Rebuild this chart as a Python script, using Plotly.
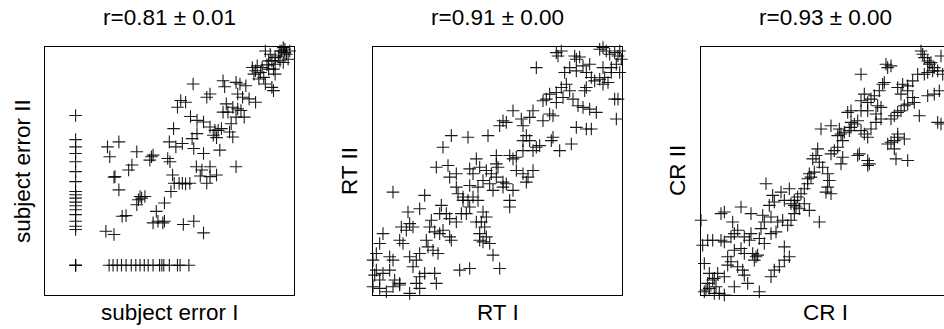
import plotly.graph_objects as go

# ---------------- data (arbitrary units) ----------------
# Panel 1: subject error I vs subject error II
err_x = [107]*17 + [107, 107, 107] + [210,222,235,248,262,278,292,305,318,330,345,365,372,378,395,420,428,455] + [
    205,240,212,295,340,345,335,390,397,228,225,270,280,240,300,305,310,320,295,380,
    400,410,425,435,445,458,250,262,355,360,345,375,380,438,470,500,200,225,405,478,
    495,520,520,490,510,540,600,468,520,510,430,445,420,460,408,395,415,435,465,480,
    470,500,550,480,500,520,535,545,555,530,540,560,565,600,612,630,605,620,640,660,
    570,560,575,590,600,585,580,590,605,615,625,650,660,675,685,690,710,715,700,720,
    690,705,710,720,730,740,745,750,755,760,735,720,745,700,695,680,665,715,655,670,
    750,735,765]
err_y = [543,470,448,428,403,373,343,313,303,293,281,270,258,243,223,208,198] + [90, 90, 90] + [90]*18 + [
    448,463,418,433,418,423,408,413,403,358,356,378,393,318,288,298,293,298,273,278,
    313,338,338,338,336,338,238,240,253,223,218,218,223,213,223,188,193,183,363,388,
    378,388,358,360,338,363,388,638,608,598,588,583,568,540,503,463,448,458,473,488,
    443,428,438,528,523,508,498,498,503,483,476,648,630,643,638,633,608,598,593,583,
    578,553,553,568,538,518,493,478,563,558,538,688,678,673,658,638,628,618,683,668,
    738,728,708,698,723,738,748,743,728,713,708,718,703,708,696,688,693,683,668,653,
    733,738,738]

# Panel 2: RT I vs RT II
rt_x = [
    560,565,575,615,620,630,660,690,700,710,720,735,745,750,755,740,725,750,705,690,
    675,665,650,640,620,600,585,590,600,575,560,540,530,520,560,580,610,625,640,660,
    680,650,645,700,715,735,745,740,500,700,725,490,480,430,455,400,390,410,460,470,
    480,500,510,520,540,550,550,545,570,605,620,650,665,460,460,490,440,430,420,380,
    380,385,320,300,310,330,350,365,380,400,410,440,460,475,490,470,430,420,420,400,
    370,360,340,325,300,280,260,265,280,295,310,325,300,290,275,260,240,230,215,210,
    185,180,195,210,240,245,220,170,175,190,205,165,115,120,150,130,110,95,90,100,
    120,140,150,60,70,40,30,20,10,20,40,60,75,90,30,15,10,30,50,70,
    90,120,140,150,165,195,200,150,130,270,300,390,370,360,350,345,330,335,350,340,
    245,295,355,220,200,235,70,260,240,330,340,320]
rt_y = [
    730,720,735,720,710,717,695,740,745,735,725,730,720,735,710,695,685,670,655,650,
    645,655,670,690,675,685,670,635,615,625,610,605,590,585,580,595,590,570,565,560,
    550,625,615,635,640,590,590,530,685,685,670,555,535,555,530,525,510,520,510,480,
    465,445,450,525,545,540,475,465,435,455,505,500,500,465,435,435,415,410,420,420,
    395,385,410,380,365,385,375,365,355,340,335,375,365,355,375,340,315,285,265,325,
    315,335,345,325,330,295,325,305,285,285,295,285,265,245,245,220,230,245,270,245,
    225,205,190,185,175,165,195,165,145,135,125,300,250,215,260,205,195,205,165,155,
    115,105,125,115,105,185,155,125,105,75,65,75,45,35,45,60,25,20,10,25,
    30,5,35,55,65,65,35,20,85,75,80,80,120,155,175,205,185,220,235,250,
    480,475,480,445,385,390,310,365,355,165,160,220]

# Panel 3: CR I vs CR II
cr_x = [
    680,685,690,700,705,710,720,730,740,745,715,700,690,670,655,640,625,610,640,655,
    620,575,580,590,500,565,570,555,540,510,500,520,530,550,560,545,520,500,470,460,
    480,470,465,450,440,430,445,430,420,410,380,410,435,470,490,500,510,520,530,545,
    560,590,600,610,620,630,640,660,675,700,720,735,730,740,610,600,610,630,590,580,
    600,605,640,495,490,520,520,525,445,440,370,365,375,355,385,400,405,400,410,395,
    360,345,350,340,330,320,310,300,290,305,315,330,345,300,290,280,270,260,235,215,
    240,225,210,200,230,250,265,245,270,285,270,255,240,230,175,185,180,190,165,170,
    150,130,120,140,170,90,80,115,110,90,80,55,40,25,20,120,140,150,130,110,
    100,145,150,160,120,90,70,60,55,40,45,35,30,60,75,90,195,375,340,300,
    285,205,230,210,195,100,30,45,65,760,765,760]
cr_y = [
    735,725,715,705,695,700,685,675,720,665,675,670,665,665,645,630,635,625,615,595,
    605,695,685,690,665,635,640,615,600,605,585,580,590,570,565,545,555,555,555,550,
    515,505,495,490,485,480,465,445,435,425,500,510,500,520,525,495,485,475,500,520,
    530,530,540,550,555,570,575,580,540,600,605,615,520,515,485,465,475,470,460,455,
    440,410,405,425,420,405,390,395,415,395,440,420,400,410,385,365,345,325,305,310,
    370,365,355,335,320,305,295,285,275,265,260,275,255,245,225,210,285,310,300,335,
    280,270,220,200,235,220,225,190,145,115,105,85,75,55,125,115,105,120,165,185,
    175,195,185,265,245,250,245,220,175,160,165,165,165,150,225,135,140,125,85,100,
    90,75,60,35,25,55,65,50,45,35,20,15,10,5,5,0,10,220,350,270,
    320,240,185,155,170,115,95,65,25,740,715,665]

titles = ["r=0.81 \u00b1 0.01", "r=0.91 \u00b1 0.00", "r=0.93 \u00b1 0.00"]
x_labels = ["subject error I", "RT I", "CR I"]
y_labels = ["subject error II", "RT II", "CR II"]

# ---------------- layout ----------------
W, H = 944, 329
panels = [
    dict(x=err_x, y=err_y, left=45, right=294, xr=[13, 778], yr=[0, 750], ylab=22),
    dict(x=rt_x, y=rt_y, left=373, right=622, xr=[10, 757], yr=[0, 747], ylab=349),
    dict(x=cr_x, y=cr_y, left=701, right=950, xr=[20, 767], yr=[0, 747], ylab=677),
]
top_px, bot_px = 47, 295
font = dict(family="Liberation Sans, Arial, sans-serif", size=22.5, color="#000")

fig = go.Figure()
annotations = []
for i, p in enumerate(panels, start=1):
    xa = "x" if i == 1 else f"x{i}"
    ya = "y" if i == 1 else f"y{i}"
    fig.add_trace(go.Scatter(
        x=p["x"], y=p["y"], mode="markers", xaxis=xa, yaxis=ya,
        cliponaxis=False, showlegend=False, hoverinfo="skip",
        marker=dict(symbol="cross-thin", size=9,
                    line=dict(width=1.1, color="rgba(0,0,0,0.9)"), color="black"),
    ))
    left, right = p["left"], p["right"]
    x0, x1 = p["xr"]
    if right > W:
        # panel is cut off by the page edge: show only the visible part
        frac = (W - left) / (right - left)
        x1 = x0 + (x1 - x0) * frac
        right = W
    dom_x = [left / W, right / W]
    dom_y = [(H - bot_px) / H, (H - top_px) / H]
    clipped = p["right"] > W
    fig.layout[f"xaxis{'' if i == 1 else i}"] = dict(
        domain=dom_x, range=[x0, x1], anchor=ya, showgrid=False, zeroline=False,
        showticklabels=False, ticks="", showline=True, linecolor="black",
        linewidth=1, mirror=True)
    fig.layout[f"yaxis{'' if i == 1 else i}"] = dict(
        domain=dom_y, range=p["yr"], anchor=xa, showgrid=False, zeroline=False,
        showticklabels=False, ticks="", showline=True, linecolor="black",
        linewidth=1, mirror=not clipped)
    cx = (p["left"] + p["right"]) / 2 / W
    annotations.append(dict(text=titles[i-1], x=cx, y=(H - 18) / H, xref="paper",
                            yref="paper", showarrow=False, font=font,
                            xanchor="center", yanchor="middle"))
    annotations.append(dict(text=x_labels[i-1], x=cx, y=(H - 312) / H, xref="paper",
                            yref="paper", showarrow=False, font=font,
                            xanchor="center", yanchor="middle"))
    annotations.append(dict(text=y_labels[i-1], x=p["ylab"] / W, y=(H - 171) / H,
                            xref="paper", yref="paper", showarrow=False, font=font,
                            textangle=-90, xanchor="center", yanchor="middle"))

fig.update_layout(width=W, height=H, margin=dict(l=0, r=0, t=0, b=0),
                  paper_bgcolor="white", plot_bgcolor="white",
                  annotations=annotations)

fig.write_html("out.html", config={"displayModeBar": False})
